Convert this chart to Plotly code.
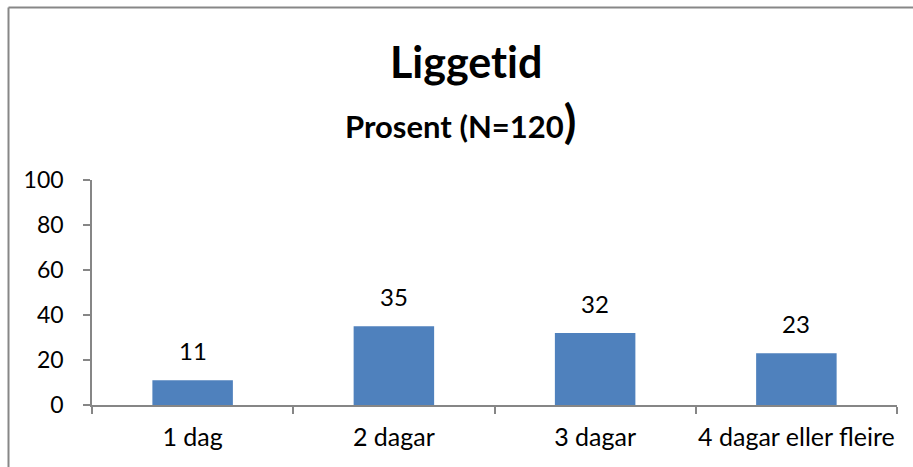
import plotly.graph_objects as go

categories = ["1 dag", "2 dagar", "3 dagar", "4 dagar eller fleire"]
values = [11, 35, 32, 23]
y_ticks = [0, 20, 40, 60, 80, 100]

W, H = 913, 467
L, R, T, B = 92, 16, 180, 62
pw, ph = W - L - R, H - T - B

def px(x):
    return (x - L) / pw

def py(y):
    return (H - B - y) / ph

FONT = "Lato"
AX = "#868686"

fig = go.Figure(go.Bar(
    x=categories, y=values, marker=dict(color="#4F81BD", line=dict(width=0)),
    hoverinfo="x+y",
))

label_annotations = [
    dict(x=c, y=v, xref="x", yref="y", text=str(v), showarrow=False,
         xanchor="center", yanchor="bottom", yshift=13,
         font=dict(family=FONT, size=24, color="black"))
    for c, v in zip(categories, values)
]

fig.update_layout(
    width=W, height=H, margin=dict(l=L, r=R, t=T, b=B, autoexpand=False),
    paper_bgcolor="white", plot_bgcolor="white", showlegend=False,
    bargap=0.6, font=dict(family=FONT, color="black"),
    xaxis=dict(showline=True, linecolor=AX, linewidth=1.5, ticks="outside",
               tickson="boundaries", ticklen=7, tickcolor=AX, tickwidth=1.5,
               tickfont=dict(family=FONT, size=25), showgrid=False,
               ticklabelstandoff=9, tickangle=0, automargin=False),
    yaxis=dict(range=[0, 100], tickvals=y_ticks, showline=True, linecolor=AX,
               linewidth=1.5, ticks="outside", ticklen=7, tickcolor=AX, tickwidth=1.5,
               tickfont=dict(family=FONT, size=23), showgrid=False, zeroline=False,
               ticklabelstandoff=15, automargin=False),
    annotations=label_annotations + [
        dict(text="<b>Ligget\u200cid</b>", xref="paper", yref="paper", x=px(466), y=py(62),
             xanchor="center", yanchor="middle", showarrow=False,
             font=dict(family=FONT, size=43, color="black")),
        dict(text="<b>Prosent (N=120</b><span style='font-size:46px'><b>)</b></span>",
             xref="paper", yref="paper", x=px(460), y=py(120),
             xanchor="center", yanchor="middle", showarrow=False,
             font=dict(family=FONT, size=31, color="black")),
    ],
    shapes=[
        dict(type="line", xref="paper", yref="paper", x0=px(8.5), x1=px(915),
             y0=py(7.5), y1=py(7.5), line=dict(color="#878787", width=2)),
        dict(type="line", xref="paper", yref="paper", x0=px(8.5), x1=px(8.5),
             y0=py(7.5), y1=py(470), line=dict(color="#878787", width=2)),
    ],
)

fig.write_html("out.html", config={"displayModeBar": False},
               post_script="document.body.style.margin='0';")
